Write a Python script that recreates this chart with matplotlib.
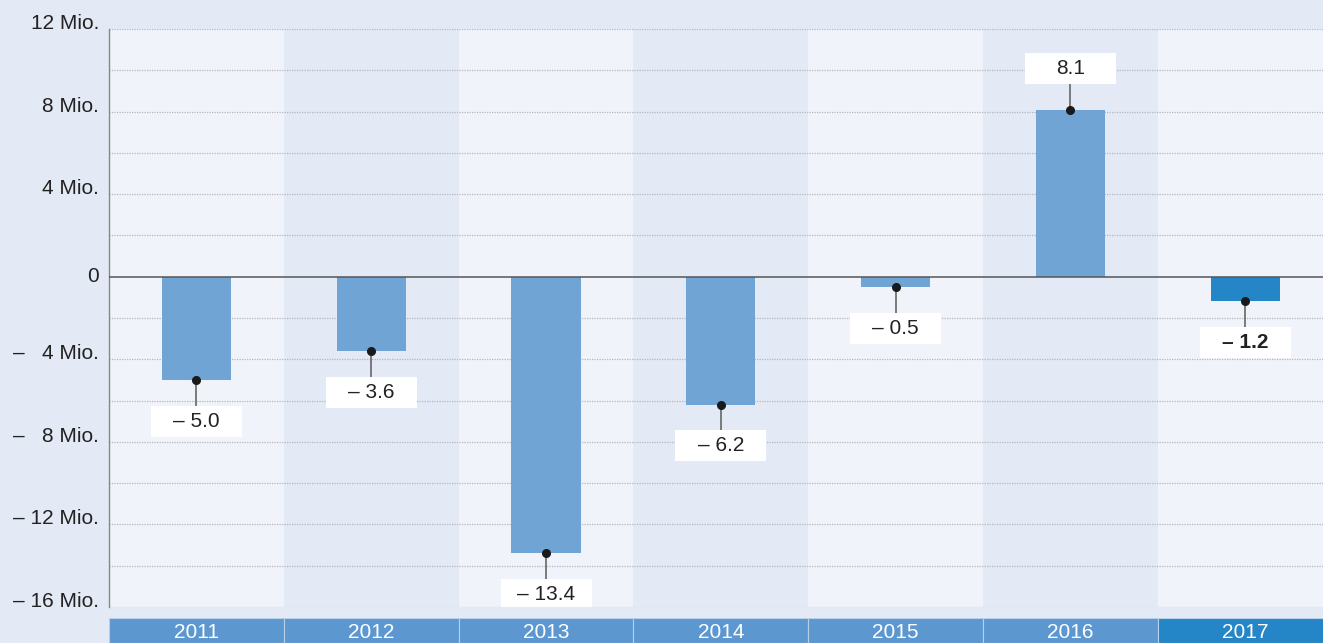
import matplotlib
matplotlib.use("Agg")
import matplotlib.pyplot as plt
from matplotlib.patches import Rectangle

plt.rcParams['font.family'] = ['Liberation Sans', 'DejaVu Sans']

years = ['2011', '2012', '2013', '2014', '2015', '2016', '2017']
values = [-5.0, -3.6, -13.4, -6.2, -0.5, 8.1, -1.2]
value_labels = ['– 5.0', '– 3.6', '– 13.4', '– 6.2', '– 0.5', '8.1', '– 1.2']
yticks = [12, 8, 4, 0, -4, -8, -12, -16]
ytick_labels = ['12 Mio.', '8 Mio.', '4 Mio.', '0', '–   4 Mio.', '–   8 Mio.', '– 12 Mio.', '– 16 Mio.']

W, H = 1323, 643
fig = plt.figure(figsize=(W/100, H/100), dpi=100)
fig.patch.set_facecolor('#e3eaf5')

left_px, top_px, bot_px = 109, 29, 607
colw = 174.8
xmax = (W - left_px) / colw - 0.5

ax = fig.add_axes([left_px/W, (H-bot_px)/H, (W-left_px)/W, (bot_px-top_px)/H])
ax.set_xlim(-0.5, xmax)
ax.set_ylim(-16, 12)
ax.set_facecolor('#f0f4fa')

light, dark = '#f0f4fa', '#e3eaf6'
for i in range(len(years)):
    ax.axvspan(i-0.5, i+0.5, color=(light if i % 2 == 0 else dark), zorder=0, lw=0)

for y in range(-16, 13, 2):
    if y == 0:
        continue
    ax.axhline(y, color='#b4b8be', lw=0.9, ls=(0, (1, 1)), zorder=1)
ax.axhline(0, color='#555555', lw=1.1, zorder=4)

bar_colors = ['#70a4d5'] * 6 + ['#2485c7']
ax.bar(range(len(years)), values, width=0.395, color=bar_colors, zorder=3)

bw, bh, off = 91/colw, 31/20.65, 2.0
for i, (v, lab) in enumerate(zip(values, value_labels)):
    sign = 1 if v > 0 else -1
    cy = v + sign*off
    edge = cy - sign*bh/2
    ax.plot([i, i], [v, edge], color='#666666', lw=1.2, zorder=5)
    ax.plot(i, v, 'o', color='#1a1a1a', ms=5.5, zorder=6)
    ax.add_patch(Rectangle((i-bw/2, cy-bh/2), bw, bh, facecolor='white', edgecolor='none', zorder=5))
    ax.text(i, cy, lab, ha='center', va='center', fontsize=15, color='#222222',
            fontweight=('bold' if i == len(years)-1 else 'normal'), zorder=7)

ax.set_yticks(yticks)
ax.set_yticklabels(ytick_labels, fontsize=15, color='#222222')
for t, val in zip(ax.get_yticklabels(), yticks):
    t.set_verticalalignment('center' if val == 0 else 'baseline')
ax.tick_params(axis='y', length=0, pad=7)
ax.set_xticks([])
for s in ['top', 'right', 'bottom']:
    ax.spines[s].set_visible(False)
ax.spines['left'].set_color('#888888')
ax.spines['left'].set_linewidth(1.0)

# year band
bax = fig.add_axes([left_px/W, 0, (W-left_px)/W, 25/H])
bax.set_xlim(-0.5, xmax)
bax.set_ylim(0, 1)
band_colors = ['#5c97d0'] * 6 + ['#2485c7']
bax.bar(range(len(years)), [1]*len(years), width=1, bottom=0, color=band_colors,
        edgecolor='#b8cfe8', linewidth=0.8)
for i, yr in enumerate(years):
    bax.text(i, 0.42, yr, ha='center', va='center', color='white', fontsize=15)
bax.axis('off')

fig.savefig('out.png', dpi=100, facecolor=fig.get_facecolor())
